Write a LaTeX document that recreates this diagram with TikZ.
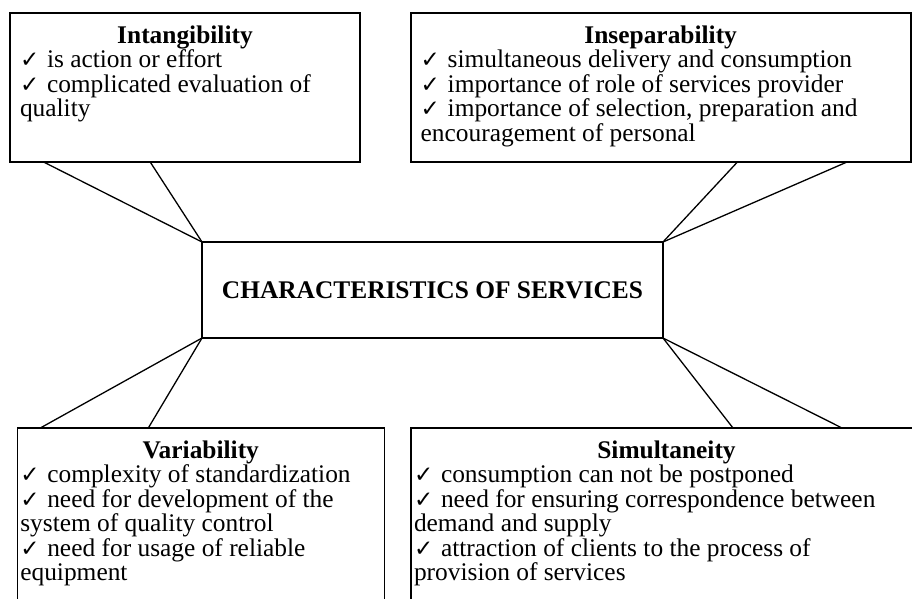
\documentclass[tikz,border=0pt]{standalone}
\usepackage{fontspec}
\setmainfont{Liberation Serif}
\newfontfamily\tickfont{DejaVu Sans}
\usetikzlibrary{positioning, calc}

% tick in front of every item, with the gap up to the text
\newcommand{\tickitem}{\makebox[27pt][l]{\tickfont\fontsize{23}{23}\selectfont ✓}}
% box text: width, height, heading, items
\newcommand{\cardtext}[4]{%
  \parbox[t][#2][t]{#1}{\raggedright
    {\centering\bfseries\rule{0pt}{30pt}#3\par}#4}}

\begin{document}
\begin{tikzpicture}[
  x=1pt, y=-1pt,
  font=\fontsize{25.4}{24.5}\selectfont,
  card/.style={
    rectangle, draw, line width=1.6pt,
    anchor=north west,
    inner xsep=10pt, inner ysep=0pt, outer sep=0pt
  },
  lowcard/.style={card, inner xsep=3pt},
  hub/.style={
    rectangle, draw, line width=1.6pt,
    anchor=north west, outer sep=0pt,
    minimum width=461pt, minimum height=96pt,
    font=\fontsize{25.4}{24.5}\selectfont\bfseries
  },
  link/.style={line width=1.3pt}
]
\useasboundingbox (0,0) rectangle (912,599);
\clip (0,0) rectangle (912,599);

\node [hub] (services) at (202,242) {CHARACTERISTICS OF SERVICES};

\node [card] (intang) at (10,13.3) {\cardtext{330pt}{148.4pt}{Intangibility}{%
  \tickitem is action or effort\\
  \tickitem complicated evaluation of\\
  quality}};

\node [card] (insep) at (410.7,13.3) {\cardtext{480pt}{148.4pt}{Inseparability}{%
  \tickitem simultaneous delivery and consumption\\
  \tickitem importance of role of services provider\\
  \tickitem importance of selection, preparation and\\
  encouragement of personal}};

\node [lowcard] (var) at (17.3,428) {\cardtext{361pt}{190pt}{Variability}{%
  \tickitem complexity of standardization\\
  \tickitem need for development of the\\
  system of quality control\\
  \tickitem need for usage of reliable\\
  equipment}};

\node [lowcard] (simul) at (411,428) {\cardtext{505pt}{190pt}{Simultaneity}{%
  \tickitem consumption can not be postponed\\
  \tickitem need for ensuring correspondence between\\
  demand and supply\\
  \tickitem attraction of clients to the process of\\
  provision of services}};

% callout legs towards the corners of the middle box
\draw [link] ([xshift=33pt]intang.south west) -- (services.north west);
\draw [link] ([xshift=140pt]intang.south west) -- (services.north west);
\draw [link] ([xshift=327pt]insep.south west) -- (services.north east);
\draw [link] ([xshift=437pt]insep.south west) -- (services.north east);
\draw [link] ([xshift=23pt]var.north west) -- (services.south west);
\draw [link] ([xshift=131pt]var.north west) -- (services.south west);
\draw [link] ([xshift=322pt]simul.north west) -- (services.south east);
\draw [link] ([xshift=431pt]simul.north west) -- (services.south east);
\end{tikzpicture}
\end{document}
